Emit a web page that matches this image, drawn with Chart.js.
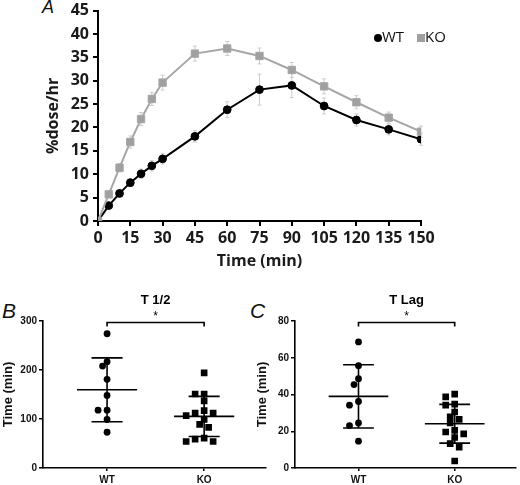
<!DOCTYPE html>
<html>
<head>
<meta charset="utf-8">
<script src="https://cdn.jsdelivr.net/npm/chart.js@4.4.1/dist/chart.umd.min.js"></script>
<style>
  body { margin: 0; background: #fff; width: 520px; height: 485px; position: relative; overflow: hidden; font-family: "Liberation Sans", Arial, sans-serif; }
  .box { position: absolute; }
  .tag { position: absolute; font-style: italic; color: #111; line-height: 1; }
</style>
</head>
<body>
<div class="tag" style="left:42px;top:-2px;font-size:18px">A</div>
<div class="tag" style="left:2px;top:300px;font-size:21px">B</div>
<div class="tag" style="left:250px;top:300px;font-size:21px">C</div>
<div class="box" style="left:0;top:-3px;width:520px;height:283px"><canvas id="doseChart"></canvas></div>
<div class="box" style="left:0;top:295px;width:270px;height:190px"><canvas id="halfChart"></canvas></div>
<div class="box" style="left:250px;top:295px;width:270px;height:190px"><canvas id="lagChart"></canvas></div>

<script>
// panel A: time course
const timePoints = [0, 5, 10, 15, 20, 25, 30, 45, 60, 75, 90, 105, 120, 135, 150];
const wtDose = [0, 3.3, 5.9, 8.2, 10.1, 11.8, 13.3, 18.1, 23.8, 28.1, 29.0, 24.6, 21.6, 19.6, 17.5];
const wtErr  = [0, 0.6, 0.7, 0.8, 1.0, 1.1, 1.1, 1.2, 1.7, 3.3, 2.6, 1.7, 1.3, 1.2, 1.3];
const koDose = [0, 5.7, 11.4, 16.9, 21.8, 26.1, 29.6, 35.8, 36.9, 35.3, 32.3, 28.8, 25.4, 22.1, 19.1];
const koErr  = [0, 0.7, 0.9, 1.3, 1.4, 1.4, 1.6, 1.6, 1.5, 1.7, 1.6, 1.6, 1.4, 1.2, 1.2];

// panels B and C: individual animals
const groups = ['WT', 'KO'];
const halfWt = [274, 217, 208, 181, 148, 118, 118, 99, 73];
const halfKo = [194, 151, 151, 137, 117, 112, 112, 107, 99, 89, 83, 61, 59, 54, 54];
const lagWt = [68.6, 55.7, 48.6, 45.4, 36.2, 34.2, 24.5, 23.1, 14.6];
const lagKo = [40.2, 38.7, 34.8, 34.2, 30.5, 27.9, 26.5, 24.5, 20.5, 19.6, 18.6, 16.6, 13.3, 11.4, 3.8];

const boldA = { family: '"Open Sans"', size: 16, weight: 'bold' };
const boldB = { family: '"Liberation Sans"', size: 10, weight: 'bold' };

const errorBars = {
  id: 'errorBars',
  beforeDatasetsDraw(chart) {
    const { ctx, scales: { x, y } } = chart;
    ctx.save();
    ctx.strokeStyle = '#cccccc';
    ctx.lineWidth = 1;
    chart.data.datasets.forEach(ds => {
      (ds.err || []).forEach((e, i) => {
        if (!e) return;
        const px = x.getPixelForValue(ds.data[i].x);
        const top = y.getPixelForValue(ds.data[i].y + e);
        const bot = y.getPixelForValue(ds.data[i].y - e);
        ctx.beginPath();
        ctx.moveTo(px, top); ctx.lineTo(px, bot);
        ctx.moveTo(px - 2, top); ctx.lineTo(px + 2, top);
        ctx.moveTo(px - 2, bot); ctx.lineTo(px + 2, bot);
        ctx.stroke();
      });
    });
    ctx.restore();
  }
};

const doseLegend = {
  id: 'doseLegend',
  afterDraw(chart) {
    const ctx = chart.ctx;
    const wt = chart.data.datasets[1], ko = chart.data.datasets[0];
    const y = 41;
    ctx.save();
    ctx.font = '15px "Open Sans"';
    ctx.textBaseline = 'middle';
    ctx.fillStyle = wt.backgroundColor;
    ctx.beginPath(); ctx.arc(378, y, 4, 0, Math.PI * 2); ctx.fill();
    ctx.fillStyle = '#111';
    ctx.fillText('WT', 382, y);
    ctx.fillStyle = ko.backgroundColor;
    ctx.fillRect(417, y - 4, 8, 8);
    ctx.fillStyle = '#111';
    ctx.fillText('KO', 425, y);
    ctx.restore();
  }
};

new Chart(document.getElementById('doseChart'), {
  type: 'line',
  data: {
    datasets: [
      {
        label: 'KO',
        data: timePoints.map((t, i) => ({ x: t, y: koDose[i] })),
        err: koErr,
        borderColor: '#a6a6a6',
        backgroundColor: '#a0a0a0',
        pointStyle: 'rect',
        pointRadius: 5.2,
        pointBorderWidth: 1,
        borderWidth: 2
      },
      {
        label: 'WT',
        data: timePoints.map((t, i) => ({ x: t, y: wtDose[i] })),
        err: wtErr,
        borderColor: '#000',
        backgroundColor: '#000',
        pointStyle: 'circle',
        pointRadius: 3.9,
        pointBorderWidth: 1,
        borderWidth: 2
      }
    ]
  },
  options: {
    responsive: true,
    maintainAspectRatio: false,
    animation: false,
    layout: { padding: { left: 0, right: 99, top: 0, bottom: 0 } },
    plugins: { legend: { display: false }, tooltip: { enabled: false } },
    scales: {
      x: {
        type: 'linear', min: 0, max: 150,
        ticks: { stepSize: 15, autoSkip: false, color: '#1a1a1a', font: boldA, padding: 3, maxRotation: 0 },
        grid: { drawOnChartArea: false, tickLength: 5, color: '#000', lineWidth: 2 },
        border: { color: '#000', width: 2 },
        title: { display: true, text: 'Time (min)', color: '#1a1a1a', font: boldA, padding: { top: 0, bottom: 9 } },
        afterFit(s) { s.height = 59; }
      },
      y: {
        min: 0, max: 45,
        ticks: { stepSize: 5, autoSkip: false, color: '#1a1a1a', font: boldA, padding: 4 },
        grid: { drawOnChartArea: false, tickLength: 5, color: '#000', lineWidth: 2 },
        border: { color: '#000', width: 2 },
        title: { display: true, text: '%dose/hr', color: '#1a1a1a', font: boldA, padding: { top: 44, bottom: 0 } },
        afterFit(s) { s.width = 98; }
      }
    }
  },
  plugins: [errorBars, doseLegend]
});

// mean and SD lines, significance bracket
const meanSd = {
  id: 'meanSd',
  afterDatasetsDraw(chart) {
    const { ctx, scales: { x, y } } = chart;
    ctx.save();
    ctx.strokeStyle = '#000';
    ctx.lineWidth = 1.6;
    chart.data.datasets.forEach((ds, gi) => {
      const vals = ds.data.map(p => p.y);
      const m = vals.reduce((a, b) => a + b, 0) / vals.length;
      const sd = Math.sqrt(vals.reduce((a, b) => a + (b - m) ** 2, 0) / (vals.length - 1));
      const c = gi + 1;
      const line = (x1, x2, v) => {
        ctx.moveTo(x.getPixelForValue(x1), y.getPixelForValue(v));
        ctx.lineTo(x.getPixelForValue(x2), y.getPixelForValue(v));
      };
      ctx.beginPath();
      line(c - 0.31, c + 0.31, m);
      line(c - 0.16, c + 0.16, m + sd);
      line(c - 0.16, c + 0.16, m - sd);
      ctx.moveTo(x.getPixelForValue(c), y.getPixelForValue(m + sd));
      ctx.lineTo(x.getPixelForValue(c), y.getPixelForValue(m - sd));
      ctx.stroke();
    });
    ctx.restore();
  }
};

const sigBracket = {
  id: 'sigBracket',
  afterDraw(chart, args, opts) {
    const { ctx, chartArea, scales: { x } } = chart;
    const x1 = x.getPixelForValue(1), x2 = x.getPixelForValue(2);
    const by = chartArea.top + 1.5;
    const mid = (x1 + x2) / 2;
    ctx.save();
    ctx.strokeStyle = '#000';
    ctx.lineWidth = 1.6;
    ctx.beginPath();
    ctx.moveTo(x1, by + 4); ctx.lineTo(x1, by); ctx.lineTo(x2, by); ctx.lineTo(x2, by + 4);
    ctx.stroke();
    ctx.fillStyle = '#000';
    ctx.textAlign = 'center';
    ctx.textBaseline = 'middle';
    ctx.font = '12px "Liberation Sans"';
    ctx.fillText('*', mid, by - 6);
    ctx.font = 'bold 13px "Liberation Sans"';
    ctx.fillText(opts.title, mid, by - 22);
    ctx.restore();
  }
};

function swarm(chart, values, center) {
  const xs = chart.scales.x, ys = chart.scales.y;
  const cx = xs.getPixelForValue(center);
  const placed = [];
  return values.map(v => {
    const py = ys.getPixelForValue(v);
    let px = cx;
    for (let k = 0; k < 30; k++) {
      const off = (k % 2 ? -1 : 1) * Math.ceil(k / 2) * 4.5;
      const hit = placed.some(p => Math.hypot(p.x - (cx + off), p.y - py) < 6.2);
      if (!hit) { px = cx + off; break; }
    }
    placed.push({ x: px, y: py });
    return { x: xs.getValueForPixel(px), y: v };
  });
}

function dotChart(id, wt, ko, yMax, yStep, title, yWidth, titlePad) {
  const chart = new Chart(document.getElementById(id), {
    type: 'scatter',
    data: {
      datasets: [
        { label: 'WT', data: wt.map(v => ({ x: 1, y: v })), backgroundColor: '#000', borderColor: '#000', pointStyle: 'circle', pointRadius: 3.4, pointBorderWidth: 0 },
        { label: 'KO', data: ko.map(v => ({ x: 2, y: v })), backgroundColor: '#000', borderColor: '#000', pointStyle: 'rect', pointRadius: 4.7, pointBorderWidth: 0 }
      ]
    },
    options: {
      responsive: true,
      maintainAspectRatio: false,
      animation: false,
      layout: { padding: { left: 0, right: 2, top: 26, bottom: 0 } },
      plugins: { legend: { display: false }, tooltip: { enabled: false }, sigBracket: { title } },
      scales: {
        x: {
          type: 'linear', min: 0.34, max: 2.63,
          afterBuildTicks(s) { s.ticks = [{ value: 1 }, { value: 2 }]; },
          ticks: { callback: v => groups[v - 1], color: '#111', font: boldB, padding: 3 },
          grid: { drawOnChartArea: false, tickLength: 3, color: '#000', lineWidth: 1.5 },
          border: { color: '#000', width: 1.6 },
          afterFit(s) { s.height = 17; }
        },
        y: {
          min: 0, max: yMax,
          ticks: { stepSize: yStep, color: '#111', font: boldB, padding: 2 },
          grid: { drawOnChartArea: false, tickLength: 4, color: '#000', lineWidth: 1.5 },
          border: { color: '#000', width: 1.6 },
          title: { display: true, text: 'Time (min)', color: '#111', font: { family: '"Liberation Sans"', size: 13, weight: 'bold' }, padding: { top: titlePad, bottom: 0 } },
          afterFit(s) { s.width = yWidth; }
        }
      }
    },
    plugins: [meanSd, sigBracket]
  });
  chart.data.datasets[0].data = swarm(chart, wt, 1);
  chart.data.datasets[1].data = swarm(chart, ko, 2);
  chart.update('none');
  return chart;
}

dotChart('halfChart', halfWt, halfKo, 300, 100, 'T 1/2', 43, 0.5);
dotChart('lagChart', lagWt, lagKo, 80, 20, 'T Lag', 45, 4.5);
</script>
</body>
</html>
